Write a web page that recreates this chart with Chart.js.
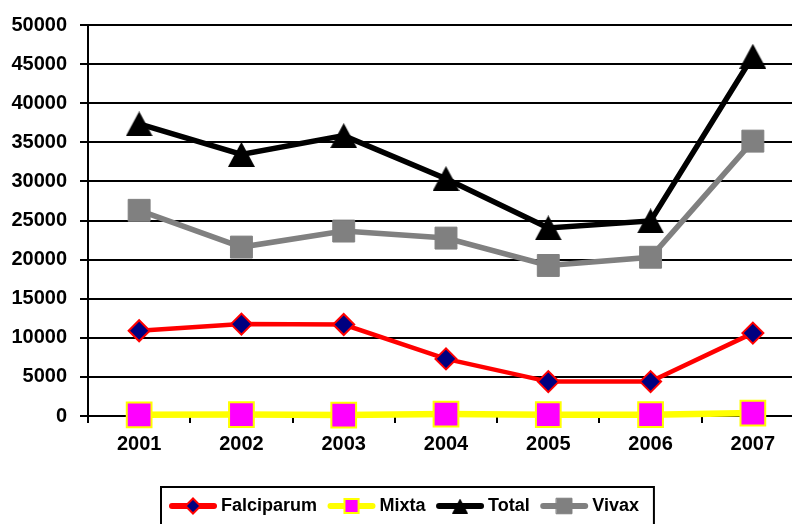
<!DOCTYPE html>
<html><head><meta charset="utf-8">
<script src="https://cdn.jsdelivr.net/npm/chart.js@4.4.1/dist/chart.umd.min.js"></script>
<style>
html,body{margin:0;padding:0;background:#fff;overflow:hidden;}
#wrap{width:792px;height:524px;overflow:hidden;position:relative;}
canvas{display:block;}
</style></head>
<body><div id="wrap"><canvas id="c" width="814" height="524"></canvas></div>
<script>
const years = ['2001','2002','2003','2004','2005','2006','2007'];
const falciparum = [10900, 11750, 11700, 7300, 4400, 4400, 10600];
const mixta = [150, 180, 120, 250, 170, 160, 380];
const total = [37350, 33450, 35850, 30350, 24050, 24950, 46000];
const vivax = [26300, 21600, 23650, 22750, 19250, 20300, 35150];
const yMin = 0, yMax = 50000, yStep = 5000;

const FONT = 'Arial, "Liberation Sans", sans-serif';

function triangleImage(w, h, color) {
  const c = document.createElement('canvas');
  c.width = w; c.height = h;
  const g = c.getContext('2d');
  g.fillStyle = color;
  g.beginPath();
  g.moveTo(w / 2, 0); g.lineTo(w, h); g.lineTo(0, h); g.closePath();
  g.fill();
  return c;
}
const triBig = triangleImage(27, 25, '#000');
const triSmall = triangleImage(16, 15, '#000');

const legendPlugin = {
  id: 'boxLegend',
  afterDraw(chart) {
    const ctx = chart.ctx;
    ctx.save();
    ctx.font = 'bold 18px ' + FONT;
    const sampleW = 48, gapT = 4, gapItem = 10.5, padL = 8, padR = 15;
    const items = chart.data.datasets.map(ds => ({ds, w: ctx.measureText(ds.label).width}));
    let totalW = padL + padR - gapItem;
    items.forEach(it => totalW += sampleW + gapT + it.w + gapItem);
    const cx = 407;
    const left = Math.round(cx - totalW / 2);
    const top = 487, cy = 506;
    ctx.lineWidth = 2;
    ctx.strokeStyle = '#000';
    ctx.strokeRect(left, top, totalW, 60);
    let x = left + padL;
    items.forEach(it => {
      const ds = it.ds;
      ctx.beginPath();
      ctx.strokeStyle = ds.borderColor;
      ctx.lineWidth = 6;
      ctx.lineCap = 'round';
      ctx.moveTo(x + 3, cy); ctx.lineTo(x + sampleW - 3, cy);
      ctx.stroke();
      ctx.fillStyle = ds.pointBackgroundColor;
      ctx.strokeStyle = ds.pointBorderColor;
      ctx.lineWidth = ds.pointBorderWidth;
      const ps = ds.legendStyle || ds.pointStyle;
      Chart.helpers.drawPoint(ctx, {pointStyle: ps, rotation: 0, radius: ds.legendRadius, borderWidth: ds.pointBorderWidth}, x + sampleW / 2, cy);
      x += sampleW + gapT;
      ctx.fillStyle = '#000';
      ctx.textBaseline = 'middle';
      ctx.textAlign = 'left';
      ctx.fillText(ds.label, x, cy);
      x += it.w + gapItem;
    });
    ctx.restore();
  }
};

new Chart(document.getElementById('c'), {
  type: 'line',
  data: {
    labels: years,
    datasets: [
      {label: 'Falciparum', data: falciparum, borderColor: '#ff0000', borderWidth: 4.5, clip: false,
       pointStyle: 'rectRot', pointRadius: 10.5, pointBackgroundColor: '#000080', pointBorderColor: '#ff0000', pointBorderWidth: 2, legendRadius: 7.5},
      {label: 'Mixta', data: mixta, borderColor: '#ffff00', borderWidth: 6.5, clip: false,
       pointStyle: 'rect', pointRadius: 17.5, pointBackgroundColor: '#ff00ff', pointBorderColor: '#ffff00', pointBorderWidth: 2, legendRadius: 10},
      {label: 'Total', data: total, borderColor: '#000000', borderWidth: 5.5, clip: false,
       pointStyle: triBig, legendStyle: triSmall, pointRadius: 14, pointBackgroundColor: '#000000', pointBorderColor: '#000000', pointBorderWidth: 1, legendRadius: 8},
      {label: 'Vivax', data: vivax, borderColor: '#808080', borderWidth: 5.5, clip: false,
       pointStyle: 'rect', pointRadius: 15.5, pointBackgroundColor: '#808080', pointBorderColor: '#808080', pointBorderWidth: 1, legendRadius: 11}
    ]
  },
  options: {
    responsive: false,
    animation: false,
    devicePixelRatio: 1,
    layout: {autoPadding: false, padding: {top: 25, right: 10, bottom: 60, left: 0}},
    elements: {line: {tension: 0}},
    plugins: {legend: {display: false}, tooltip: {enabled: false}},
    events: [],
    scales: {
      x: {
        offset: true,
        grid: {offset: true, drawOnChartArea: false, drawTicks: true, tickLength: 7, color: '#000', lineWidth: 2},
        border: {display: true, color: '#000', width: 2},
        ticks: {color: '#000', font: {family: FONT, size: 20, weight: 'bold'}, padding: 9, maxRotation: 0},
        afterFit(s) { s.height = 48; }
      },
      y: {
        min: yMin, max: yMax,
        grid: {color: '#000', lineWidth: 2, tickLength: 8},
        border: {display: true, color: '#000', width: 2},
        ticks: {stepSize: yStep, color: '#000', font: {family: FONT, size: 20, weight: 'bold'}, padding: 13,
                callback: v => String(v)},
        afterFit(s) { s.width = 88; }
      }
    }
  },
  plugins: [legendPlugin]
});
</script></body></html>
